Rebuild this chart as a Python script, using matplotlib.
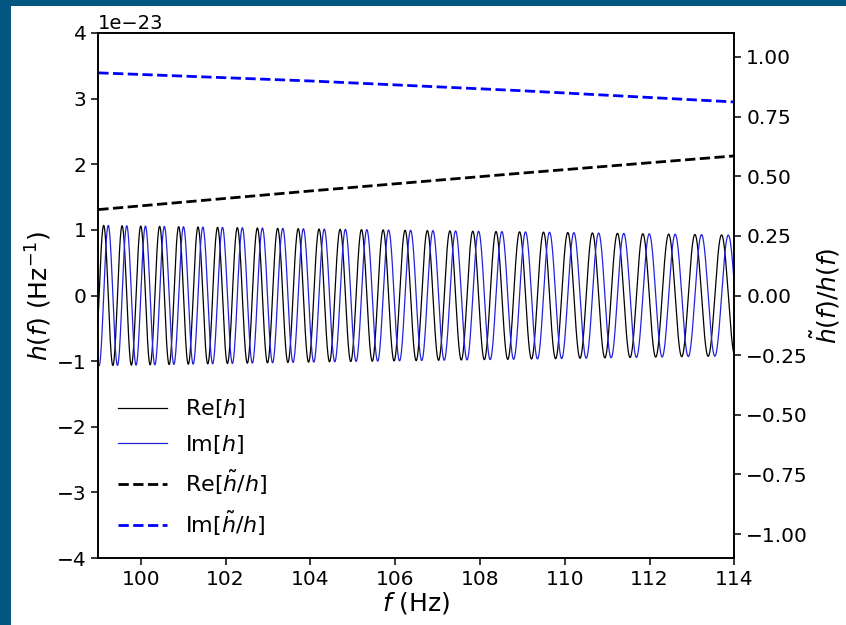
import numpy as np
import matplotlib
matplotlib.use("Agg")
import matplotlib.pyplot as plt
from matplotlib.patches import Rectangle

FRAME_COLOR = "#04557f"

# frequencies (Hz) of the maxima of Re[h]
re_peak_freqs = [
    99.111, 99.559, 100.008, 100.457, 100.905, 101.354, 101.826, 102.274,
    102.723, 103.219, 103.738, 104.210, 104.706, 105.225, 105.721, 106.217,
    106.736, 107.255, 107.822, 108.389, 108.955, 109.522, 110.088, 110.678,
    111.245, 111.812, 112.425, 113.086, 113.700,
]

# envelope of h(f), in units of 1e-23 Hz^-1
amp_freqs = [99.0, 104.5, 109.0, 114.0]
amp_values = [1.07, 1.01, 0.97, 0.92]

# ratio h~/h at a few frequencies
ratio_freqs = [99.0, 104.0, 109.0, 114.0]
ratio_re = [0.360, 0.438, 0.513, 0.585]
ratio_im = [0.933, 0.899, 0.858, 0.811]

f_min, f_max = 99.0, 114.0


def build_waveform():
    f = np.linspace(f_min, f_max, 4000)
    k = np.arange(len(re_peak_freqs))
    coeffs = np.polyfit(re_peak_freqs, k, 3)
    phase = 2 * np.pi * np.polyval(coeffs, f)
    amp = np.interp(f, amp_freqs, amp_values) * 1e-23
    return f, amp * np.cos(phase), amp * np.sin(phase)


def add_frame(fig):
    fig.patches.append(Rectangle((0, 0), 11 / 846, 1, transform=fig.transFigure,
                                 facecolor=FRAME_COLOR, edgecolor="none", zorder=-10))
    fig.patches.append(Rectangle((0, 1 - 6 / 625), 1, 6 / 625, transform=fig.transFigure,
                                 facecolor=FRAME_COLOR, edgecolor="none", zorder=-10))


fig = plt.figure(figsize=(8.46, 6.25), dpi=100)
fig.patch.set_facecolor("white")
add_frame(fig)

ax = fig.add_axes([0.1162, 0.1072, 0.7518, 0.84])
ax2 = ax.twinx()

f, h_re, h_im = build_waveform()
l1, = ax.plot(f, h_re, color="black", linewidth=0.9, label="Re[$h$]")
l2, = ax.plot(f, h_im, color="#2222dd", linewidth=0.9, label="Im[$h$]")

l3, = ax2.plot(ratio_freqs, ratio_re, color="black", linestyle="--", linewidth=2.0,
               label=r"Re[$\tilde{h}/h$]")
l4, = ax2.plot(ratio_freqs, ratio_im, color="blue", linestyle="--", linewidth=2.0,
               label=r"Im[$\tilde{h}/h$]")

ax.set_xlim(f_min, f_max)
ax.set_ylim(-4e-23, 4e-23)
ax2.set_ylim(-1.1, 1.1)
ax.set_xticks(np.arange(100, 115, 2))
ax.set_yticks(np.arange(-4, 5) * 1e-23)
ax2.set_yticks(np.arange(-1.0, 1.01, 0.25))

for a in (ax, ax2):
    a.tick_params(labelsize=14.5, width=1.1, length=5)
    for spine in a.spines.values():
        spine.set_linewidth(1.2)
ax.yaxis.get_offset_text().set_fontsize(14)

ax.set_xlabel("$f$ (Hz)", fontsize=18, labelpad=1)
ax.set_ylabel("$h(f)$ (Hz$^{-1}$)", fontsize=18, labelpad=2)
ax2.set_ylabel(r"$\tilde{h}(f)/h(f)$", fontsize=18, labelpad=1)

ax2.legend(handles=[l1, l2, l3, l4], loc="lower left", bbox_to_anchor=(0.0, 0.0),
           frameon=False, fontsize=16, handlelength=2.2, labelspacing=0.55)

fig.savefig("out.png", dpi=100)
